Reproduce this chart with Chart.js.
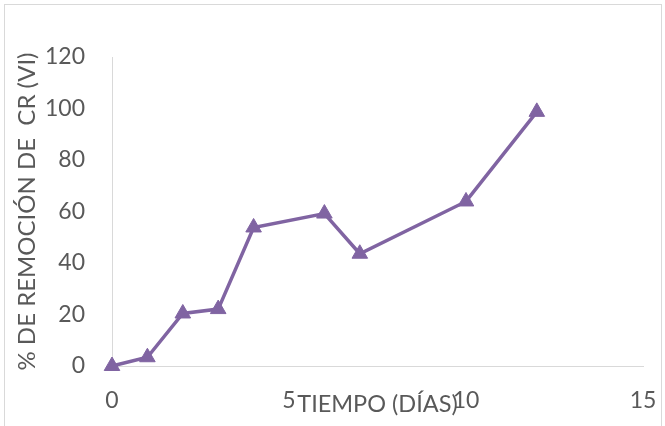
<!DOCTYPE html>
<html>
<head>
<meta charset="utf-8">
<script src="https://cdn.jsdelivr.net/npm/chart.js@4/dist/chart.umd.min.js"></script>
<style>
  html, body { margin: 0; padding: 0; background: #ffffff; }
  #wrap { position: relative; width: 665px; height: 426px; overflow: hidden; }
  #frame { position: absolute; left: 4px; top: 4px; width: 658px; height: 440px;
           border: 1px solid #d9d9d9; box-sizing: border-box; pointer-events: none; }
  canvas { position: absolute; left: 0; top: 0; }
</style>
</head>
<body>
<div id="wrap">
  <canvas id="c" width="665" height="426"></canvas>
  <div id="frame"></div>
</div>
<script>
// Tiempo de tratamiento (días) y porcentaje de remoción de Cr(VI)
const dias = [0, 1, 2, 3, 4, 6, 7, 10, 12];
const remocion = [0, 3.4, 20.4, 22.1, 53.8, 59.2, 43.6, 63.9, 98.7];
const xTicks = [0, 5, 10, 15];
const yTicks = [0, 20, 40, 60, 80, 100, 120];

const FONT = 'Lato, "Open Sans", sans-serif';
const GREY = '#595959';
const PURPLE = '#8064A2';
const AXIS = '#d9d9d9';
const CLEAR = 'rgba(0,0,0,0)';

const puntos = dias.map((d, i) => ({ x: d, y: remocion[i] }));

new Chart(document.getElementById('c'), {
  type: 'scatter',
  data: {
    datasets: [{
      data: puntos,
      showLine: true,
      clip: false,
      borderColor: PURPLE,
      backgroundColor: PURPLE,
      borderWidth: 3.5,
      pointStyle: 'triangle',
      pointRadius: 9,
      pointBorderWidth: 1,
      pointBorderColor: PURPLE,
      pointBackgroundColor: PURPLE,
      tension: 0
    }]
  },
  options: {
    responsive: false,
    devicePixelRatio: 1,
    animation: false,
    layout: { padding: { top: 57, right: 22, bottom: 0, left: 0 } },
    plugins: { legend: { display: false }, tooltip: { enabled: false } },
    scales: {
      x: {
        type: 'linear',
        min: 0, max: 15,
        afterBuildTicks: s => { s.ticks = xTicks.map(v => ({ value: v })); },
        afterFit: s => { s.height = 60; },
        // invisible tick marks keep the labels away from the axis line
        grid: { display: true, drawOnChartArea: false, drawTicks: true, tickLength: 21, tickColor: CLEAR, color: CLEAR },
        border: { display: true, color: AXIS, width: 1 },
        ticks: { color: GREY, font: { family: FONT, size: 23 }, padding: 0, maxRotation: 0 },
        title: {
          display: true, text: 'TIEMPO (DÍAS)', color: GREY,
          font: { family: FONT, size: 23.5 }, padding: { top: 0, bottom: 7 }
        }
      },
      y: {
        type: 'linear',
        min: 0, max: 120,
        afterBuildTicks: s => { s.ticks = yTicks.map(v => ({ value: v })); },
        afterFit: s => { s.width = 112; },
        grid: { display: true, drawOnChartArea: false, drawTicks: true, tickLength: 27, tickColor: CLEAR, color: CLEAR },
        border: { display: true, color: AXIS, width: 1 },
        ticks: { color: GREY, font: { family: FONT, size: 23 }, padding: 0 },
        title: {
          display: true, text: '% DE REMOCIÓN DE  CR (VI)', color: GREY,
          font: { family: FONT, size: 24 }, padding: { top: 13, bottom: 0 }
        }
      }
    }
  }
});
</script>
</body>
</html>
